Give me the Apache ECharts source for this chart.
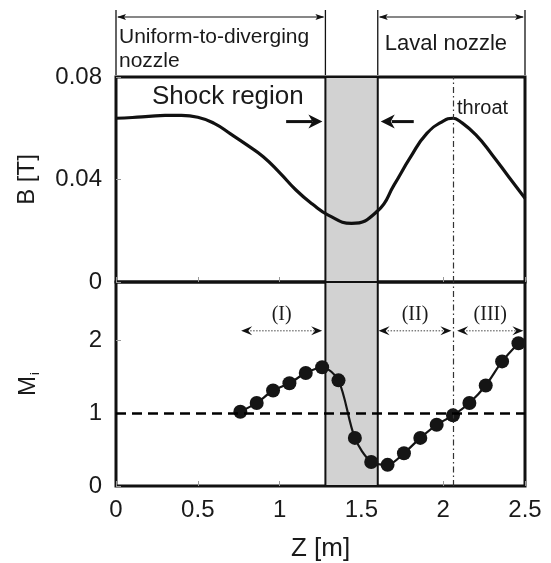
<!DOCTYPE html>
<html>
<head>
<meta charset="utf-8">
<script src="https://cdn.jsdelivr.net/npm/echarts@6/dist/echarts.min.js"></script>
<style>
html,body{margin:0;padding:0;background:#fff;}
#c{width:551px;height:563px;}
</style>
</head>
<body>
<div id="c"></div>
<script>
// ---- data ----
const zB = [0, 0.1, 0.2, 0.3, 0.4, 0.5, 0.6, 0.7, 0.8, 0.9, 1.0, 1.1, 1.2, 1.3, 1.44, 1.6, 1.7, 1.8, 1.9, 2.0, 2.06, 2.1, 2.2, 2.3, 2.4, 2.5];
const bField = [0.0639, 0.0642, 0.0646, 0.065, 0.065, 0.0643, 0.0619, 0.0578, 0.0535, 0.0489, 0.0427, 0.0359, 0.0304, 0.026, 0.0229, 0.0278, 0.0379, 0.0487, 0.058, 0.0628, 0.0639, 0.0628, 0.0574, 0.0496, 0.0411, 0.0327];
const zM = [0.76, 0.86, 0.96, 1.06, 1.16, 1.26, 1.36, 1.46, 1.56, 1.66, 1.76, 1.86, 1.96, 2.06, 2.16, 2.26, 2.36, 2.46];
const machVals = [1.02, 1.14, 1.31, 1.41, 1.55, 1.63, 1.45, 0.66, 0.33, 0.29, 0.45, 0.66, 0.84, 0.97, 1.14, 1.38, 1.71, 1.96];
const xTicks = [0, 0.5, 1, 1.5, 2, 2.5];
const bTicks = [0, 0.04, 0.08];
const mTicks = [0, 1, 2];
const shockRegion = [1.28, 1.6];
const throatZ = 2.06;
const sonicM = 1;
const regionLabels = ['(I)', '(II)', '(III)'];
const regionSpans = [[0.765, 1.26], [1.605, 2.05], [2.085, 2.49]];
const regionArrowM = 2.13;
const regionLabelM = 2.35;

const FONT = 'Liberation Sans, Arial, sans-serif';
const chart = echarts.init(document.getElementById('c'));

function zip(a, b) { return a.map((v, i) => [v, b[i]]); }
const tickFmt = (list) => (v) => list.some(t => Math.abs(t - v) < 1e-9) ? String(+v.toFixed(4)) : '';

const commonX = {
  type: 'value', min: 0, max: 2.5, interval: 0.5,
  axisLine: { show: false },
  axisTick: { show: true, inside: true, length: 5, lineStyle: { color: '#999', width: 1 } },
  splitLine: { show: false }
};

const option = {
  animation: false,
  grid: [
    { left: 116, top: 77, width: 409, height: 205, show: true, borderColor: '#111', borderWidth: 3, backgroundColor: 'transparent' },
    { left: 116, top: 282, width: 409, height: 206, show: true, borderColor: '#111', borderWidth: 3, backgroundColor: 'transparent' }
  ],
  xAxis: [
    Object.assign({}, commonX, { gridIndex: 0, axisLabel: { show: false } }),
    Object.assign({}, commonX, {
      gridIndex: 1,
      axisLabel: { show: true, margin: 12, fontSize: 24, color: '#1a1a1a', fontFamily: FONT, formatter: tickFmt(xTicks) },
      name: 'Z [m]', nameLocation: 'middle', nameGap: 50,
      nameTextStyle: { fontSize: 26, color: '#1a1a1a', fontFamily: FONT }
    })
  ],
  yAxis: [
    {
      type: 'value', gridIndex: 0, min: 0, max: 0.08, interval: 0.04,
      axisLine: { show: false },
      axisTick: { show: true, inside: true, length: 5, lineStyle: { color: '#999', width: 1 } },
      splitLine: { show: false },
      axisLabel: { margin: 14, fontSize: 24, color: '#1a1a1a', fontFamily: FONT, formatter: tickFmt(bTicks) },
      name: 'B [T]', nameLocation: 'middle', nameRotate: 90, nameGap: 77,
      nameTextStyle: { fontSize: 24, color: '#1a1a1a', fontFamily: FONT }
    },
    {
      type: 'value', gridIndex: 1, min: 0, max: 2.8, interval: 1,
      axisLine: { show: false },
      axisTick: { show: true, inside: true, length: 5, lineStyle: { color: '#999', width: 1 } },
      splitLine: { show: false },
      axisLabel: { margin: 14, fontSize: 24, color: '#1a1a1a', fontFamily: FONT, formatter: tickFmt(mTicks), showMaxLabel: false },
      name: '{m|M}{s|i}', nameLocation: 'middle', nameRotate: 90, nameGap: 74,
      nameTextStyle: {
        fontSize: 24, color: '#1a1a1a', fontFamily: FONT,
        rich: {
          m: { fontSize: 24, color: '#1a1a1a', fontFamily: FONT },
          s: { fontSize: 13, color: '#1a1a1a', fontFamily: FONT, verticalAlign: 'bottom', padding: [14, 0, 0, 1] }
        }
      }
    }
  ],
  series: [
    {
      name: 'shockTop', type: 'line', xAxisIndex: 0, yAxisIndex: 0, data: [], z: 1, silent: true,
      markArea: {
        silent: true,
        itemStyle: { color: '#d2d2d2', borderColor: '#111', borderWidth: 2 },
        data: [[{ xAxis: shockRegion[0], yAxis: 0 }, { xAxis: shockRegion[1], yAxis: 0.08 }]]
      },
      markLine: {
        silent: true, symbol: 'none', label: { show: false },
        lineStyle: { color: '#333', width: 1.2, type: [6, 3, 1.5, 3] },
        data: [{ xAxis: throatZ }]
      }
    },
    {
      name: 'shockBot', type: 'line', xAxisIndex: 1, yAxisIndex: 1, data: [], z: 1, silent: true,
      markArea: {
        silent: true,
        itemStyle: { color: '#d2d2d2', borderColor: '#111', borderWidth: 2 },
        data: [[{ xAxis: shockRegion[0], yAxis: 0 }, { xAxis: shockRegion[1], yAxis: 2.8 }]]
      },
      markLine: {
        silent: true, symbol: 'none', label: { show: false },
        data: [
          { xAxis: throatZ, lineStyle: { color: '#333', width: 1.2, type: [6, 3, 1.5, 3] } },
          { yAxis: sonicM, lineStyle: { color: '#000', width: 2.5, type: [10, 6] } }
        ]
      }
    },
    {
      name: 'B', type: 'line', xAxisIndex: 0, yAxisIndex: 0, z: 3,
      data: zip(zB, bField), smooth: 0.5, showSymbol: false, symbol: 'none',
      lineStyle: { color: '#111', width: 3.2 }
    },
    {
      name: 'Mi', type: 'line', xAxisIndex: 1, yAxisIndex: 1, z: 3,
      data: zip(zM, machVals), smooth: 0.3, symbol: 'circle', symbolSize: 14, showSymbol: true,
      itemStyle: { color: '#151515' },
      lineStyle: { color: '#151515', width: 2.2 }
    }
  ]
};
chart.setOption(option);

// ---- annotations positioned through the chart's scales ----
function px(grid, z, v) { return chart.convertToPixel({ gridIndex: grid }, [z, v]); }
function xPx(z) { return chart.convertToPixel({ xAxisIndex: 0 }, z); }

const G = [];
const ink = '#111';
function line(x1, y1, x2, y2, w, col, dash) {
  G.push({ type: 'line', shape: { x1, y1, x2, y2 }, style: { stroke: col || ink, lineWidth: w || 1, lineDash: dash || null }, silent: true, z: 100 });
}
function poly(points, col) {
  G.push({ type: 'polygon', shape: { points }, style: { fill: col || ink, stroke: null }, silent: true, z: 100 });
}
function text(x, y, str, size, opts) {
  G.push({ type: 'text', x, y, style: Object.assign({ text: str, fill: '#1a1a1a', font: size + 'px ' + FONT, textAlign: 'left', textVerticalAlign: 'middle' }, opts || {}), silent: true, z: 100 });
}
function head(x, y, dir, len, half, notch, col) {
  poly([[x, y], [x - dir * len, y - half], [x - dir * (len - notch), y], [x - dir * len, y + half]], col);
}

// top brackets
const bY = 17, bTop = 10, bBot = 75;
const xL0 = xPx(0), xL1 = xPx(shockRegion[0]), xR0 = xPx(shockRegion[1]), xR1 = xPx(2.5);
[xL0, xL1, xR0, xR1].forEach(x => line(x, bTop, x, bBot, 1.3));
line(xL0 + 2, bY, xL1 - 2, bY, 1.2);
head(xL0 + 1, bY, -1, 9, 3, 2);
head(xL1 - 1, bY, 1, 9, 3, 2);
line(xR0 + 2, bY, xR1 - 2, bY, 1.2);
head(xR0 + 1, bY, -1, 9, 3, 2);
head(xR1 - 1, bY, 1, 9, 3, 2);
text(xL0 + 3, 37, 'Uniform-to-diverging', 21);
text(xL0 + 3, 61, 'nozzle', 21);
text(xR0 + 7, 44, 'Laval nozzle', 22);

// shock region label & arrows
const sY = px(0, 0, 0.0626)[1];
text(xPx(0.22), 97, 'Shock region', 26);
line(xPx(1.04), sY, xPx(1.2), sY, 3);
head(xL1 - 3, sY, 1, 14, 7, 4);
line(xR0 + 14, sY, xPx(1.82), sY, 3);
head(xR0 + 3, sY, -1, 14, 7, 4);

// throat label
text(xPx(throatZ) + 4, 108, 'throat', 20);

// region (I)(II)(III) arrows
const rY = px(1, 0, regionArrowM)[1];
const lY = px(1, 0, regionLabelM)[1];
regionSpans.forEach((s, i) => {
  const a = xPx(s[0]), b = xPx(s[1]);
  line(a + 6, rY, b - 6, rY, 1, '#444', [1.5, 1.5]);
  head(a, rY, -1, 11, 4.5, 4);
  head(b, rY, 1, 11, 4.5, 4);
  text((a + b) / 2, lY, regionLabels[i], 20, { textAlign: 'center', textVerticalAlign: 'middle', font: '20px Liberation Serif, Times New Roman, serif' });
});

chart.setOption({ graphic: G });
</script>
</body>
</html>
